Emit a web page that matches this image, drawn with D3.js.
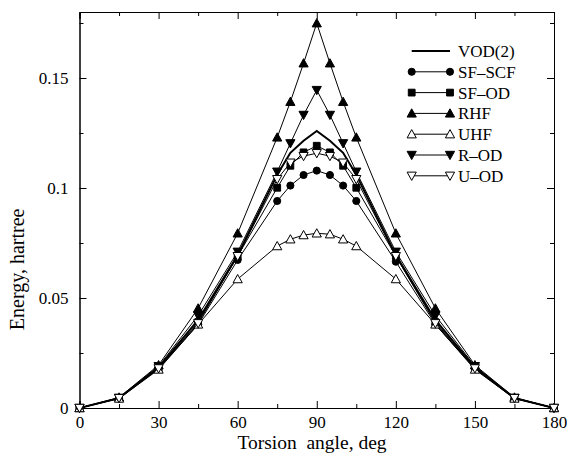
<!DOCTYPE html>
<html>
<head>
<meta charset="utf-8">
<script src="https://cdn.jsdelivr.net/npm/d3@7"></script>
<style>
  body { margin: 0; background: #fff; }
  svg { display: block; }
  .axis path, .axis line { stroke: #000; stroke-width: 1; }
</style>
</head>
<body>
<div id="chart"></div>
<script>
// torsion angles (deg)
const angles = [0, 15, 30, 45, 60, 75, 80, 85, 90, 95, 100, 105, 120, 135, 150, 165, 180];

// energies (hartree)
const vod2  = [0, 0.0045, 0.0185, 0.0400, 0.0695, 0.1060, 0.1160, 0.1215, 0.1259, 0.1215, 0.1160, 0.1060, 0.0695, 0.0400, 0.0185, 0.0045, 0];
const sfScf = [0, 0.0044, 0.0178, 0.0380, 0.0673, 0.0941, 0.1011, 0.1059, 0.1079, 0.1059, 0.1011, 0.0941, 0.0665, 0.0380, 0.0178, 0.0044, 0];
const sfOd  = [0, 0.0045, 0.0180, 0.0390, 0.0690, 0.1001, 0.1101, 0.1162, 0.1192, 0.1162, 0.1101, 0.1001, 0.0690, 0.0390, 0.0180, 0.0045, 0];
const rhf   = [0, 0.0048, 0.0195, 0.0453, 0.0794, 0.1230, 0.1392, 0.1567, 0.1749, 0.1567, 0.1392, 0.1230, 0.0794, 0.0453, 0.0195, 0.0048, 0];
const uhf   = [0, 0.0043, 0.0175, 0.0380, 0.0586, 0.0736, 0.0767, 0.0786, 0.0794, 0.0790, 0.0767, 0.0736, 0.0586, 0.0380, 0.0175, 0.0043, 0];
const rOd   = [0, 0.0046, 0.0190, 0.0420, 0.0710, 0.1074, 0.1203, 0.1332, 0.1445, 0.1332, 0.1203, 0.1074, 0.0710, 0.0420, 0.0190, 0.0046, 0];
const uOd   = [0, 0.0045, 0.0180, 0.0385, 0.0690, 0.1040, 0.1115, 0.1145, 0.1158, 0.1145, 0.1115, 0.1040, 0.0690, 0.0385, 0.0180, 0.0045, 0];

const seriesNames = ["VOD(2)", "SF\u2013SCF", "SF\u2013OD", "RHF", "UHF", "R\u2013OD", "U\u2013OD"];
const xTicks = [0, 30, 60, 90, 120, 150, 180];
const xMinor = [15, 45, 75, 105, 135, 165];
const yTicks = [0, 0.05, 0.1, 0.15];
const yMinor = [0.025, 0.075, 0.125, 0.175];

const series = [
  {name: seriesNames[0], values: vod2,  marker: null,       fill: "none", width: 2},
  {name: seriesNames[1], values: sfScf, marker: "circle",   fill: "#000", width: 1},
  {name: seriesNames[2], values: sfOd,  marker: "square",   fill: "#000", width: 1},
  {name: seriesNames[3], values: rhf,   marker: "triUp",    fill: "#000", width: 1},
  {name: seriesNames[4], values: uhf,   marker: "triUp",    fill: "#fff", width: 1},
  {name: seriesNames[5], values: rOd,   marker: "triDown",  fill: "#000", width: 1},
  {name: seriesNames[6], values: uOd,   marker: "triDown",  fill: "#fff", width: 1}
];

const W = 568, H = 454;
const margin = {top: 12, right: 14, bottom: 46, left: 79.5};
const width = W - margin.left - margin.right;
const height = H - margin.top - margin.bottom;
const serif = "'Liberation Serif', 'Times New Roman', Times, serif";

const svg = d3.select("#chart").append("svg")
    .attr("width", W).attr("height", H)
  .append("g")
    .attr("transform", "translate(" + margin.left + "," + margin.top + ")");

const x = d3.scaleLinear().domain([0, 180]).range([0, width]);
const y = d3.scaleLinear().domain([0, 0.18]).range([height, 0]);

function markerPath(kind) {
  if (kind == "circle") return d3.symbol(d3.symbolCircle, 40)();
  if (kind == "square") return d3.symbol(d3.symbolSquare, 46)();
  // triangles drawn by hand so the tip points the right way
  const s = 4.6;
  if (kind == "triUp") return `M0,${-s}L${s},${s * 0.8}L${-s},${s * 0.8}Z`;
  return `M0,${s}L${s},${-s * 0.8}L${-s},${-s * 0.8}Z`;
}

// axes: major ticks inward on all four sides, minor ticks too
const fontSize = "17px";
const xAx = svg.append("g").attr("class", "axis")
    .attr("transform", "translate(0," + height + ")")
    .call(d3.axisBottom(x).tickValues(xTicks).tickSize(-7).tickPadding(8).tickFormat(d3.format("d")));
xAx.attr("font-family", null);
xAx.selectAll("text").style("font-size", fontSize).style("font-family", serif);
svg.append("g").attr("class", "axis")
    .attr("transform", "translate(0," + height + ")")
    .call(d3.axisBottom(x).tickValues(xMinor).tickSize(-4).tickFormat(""));
svg.append("g").attr("class", "axis")
    .call(d3.axisTop(x).tickValues(xTicks).tickSize(-7).tickFormat(""));
svg.append("g").attr("class", "axis")
    .call(d3.axisTop(x).tickValues(xMinor).tickSize(-4).tickFormat(""));

const yAx = svg.append("g").attr("class", "axis")
    .call(d3.axisLeft(y).tickValues(yTicks).tickSize(-7).tickPadding(11).tickFormat(d => d == 0 ? "0" : String(d)));
yAx.attr("font-family", null);
yAx.selectAll("text").style("font-size", fontSize).style("font-family", serif);
svg.append("g").attr("class", "axis")
    .call(d3.axisLeft(y).tickValues(yMinor).tickSize(-4).tickFormat(""));
svg.append("g").attr("class", "axis")
    .attr("transform", "translate(" + width + ",0)")
    .call(d3.axisRight(y).tickValues(yTicks).tickSize(-7).tickFormat(""));
svg.append("g").attr("class", "axis")
    .attr("transform", "translate(" + width + ",0)")
    .call(d3.axisRight(y).tickValues(yMinor).tickSize(-4).tickFormat(""));

svg.selectAll(".axis .domain").attr("stroke", "#000");

// axis titles
svg.append("text")
    .attr("x", width * 0.49).attr("y", height + 41)
    .attr("text-anchor", "middle")
    .style("font-size", "19.5px").style("font-family", serif)
    .attr("xml:space", "preserve")
    .text("Torsion  angle, deg");
svg.append("text")
    .attr("transform", "translate(" + (-56) + "," + (height * 0.65) + ") rotate(-90)")
    .attr("text-anchor", "middle")
    .style("font-size", "20px").style("font-family", serif)
    .text("Energy, hartree");

// series lines and markers
const line = d3.line().x(d => x(d[0])).y(d => y(d[1]));

series.forEach(s => {
  const pts = angles.map((a, i) => [a, s.values[i]]);
  svg.append("path")
      .attr("d", line(pts))
      .attr("fill", "none")
      .attr("stroke", "#000")
      .attr("stroke-width", s.width)
      .attr("stroke-linejoin", "miter");
  if (s.marker) {
    svg.append("g").selectAll("path")
        .data(pts)
        .join("path")
        .attr("transform", d => "translate(" + x(d[0]) + "," + y(d[1]) + ")")
        .attr("d", markerPath(s.marker))
        .attr("fill", s.fill)
        .attr("stroke", "#000")
        .attr("stroke-width", 1);
  }
});

// legend
const lgX0 = 411.7 - margin.left, lgX1 = 450 - margin.left, lgY0 = 51 - margin.top, lgStep = 20.8;
series.forEach((s, i) => {
  const gy = lgY0 + i * lgStep;
  const g = svg.append("g");
  g.append("line")
      .attr("x1", lgX0).attr("x2", lgX1).attr("y1", gy).attr("y2", gy)
      .attr("stroke", "#000").attr("stroke-width", s.width);
  if (s.marker) {
    [lgX0, lgX1].forEach(px => {
      g.append("path")
          .attr("transform", "translate(" + px + "," + gy + ")")
          .attr("d", markerPath(s.marker))
          .attr("fill", s.fill).attr("stroke", "#000").attr("stroke-width", 1);
    });
  }
  g.append("text")
      .attr("x", lgX1 + 8).attr("y", gy).attr("dy", "0.35em")
      .style("font-size", "17px").style("font-family", serif)
      .text(s.name);
});
</script>
</body>
</html>
